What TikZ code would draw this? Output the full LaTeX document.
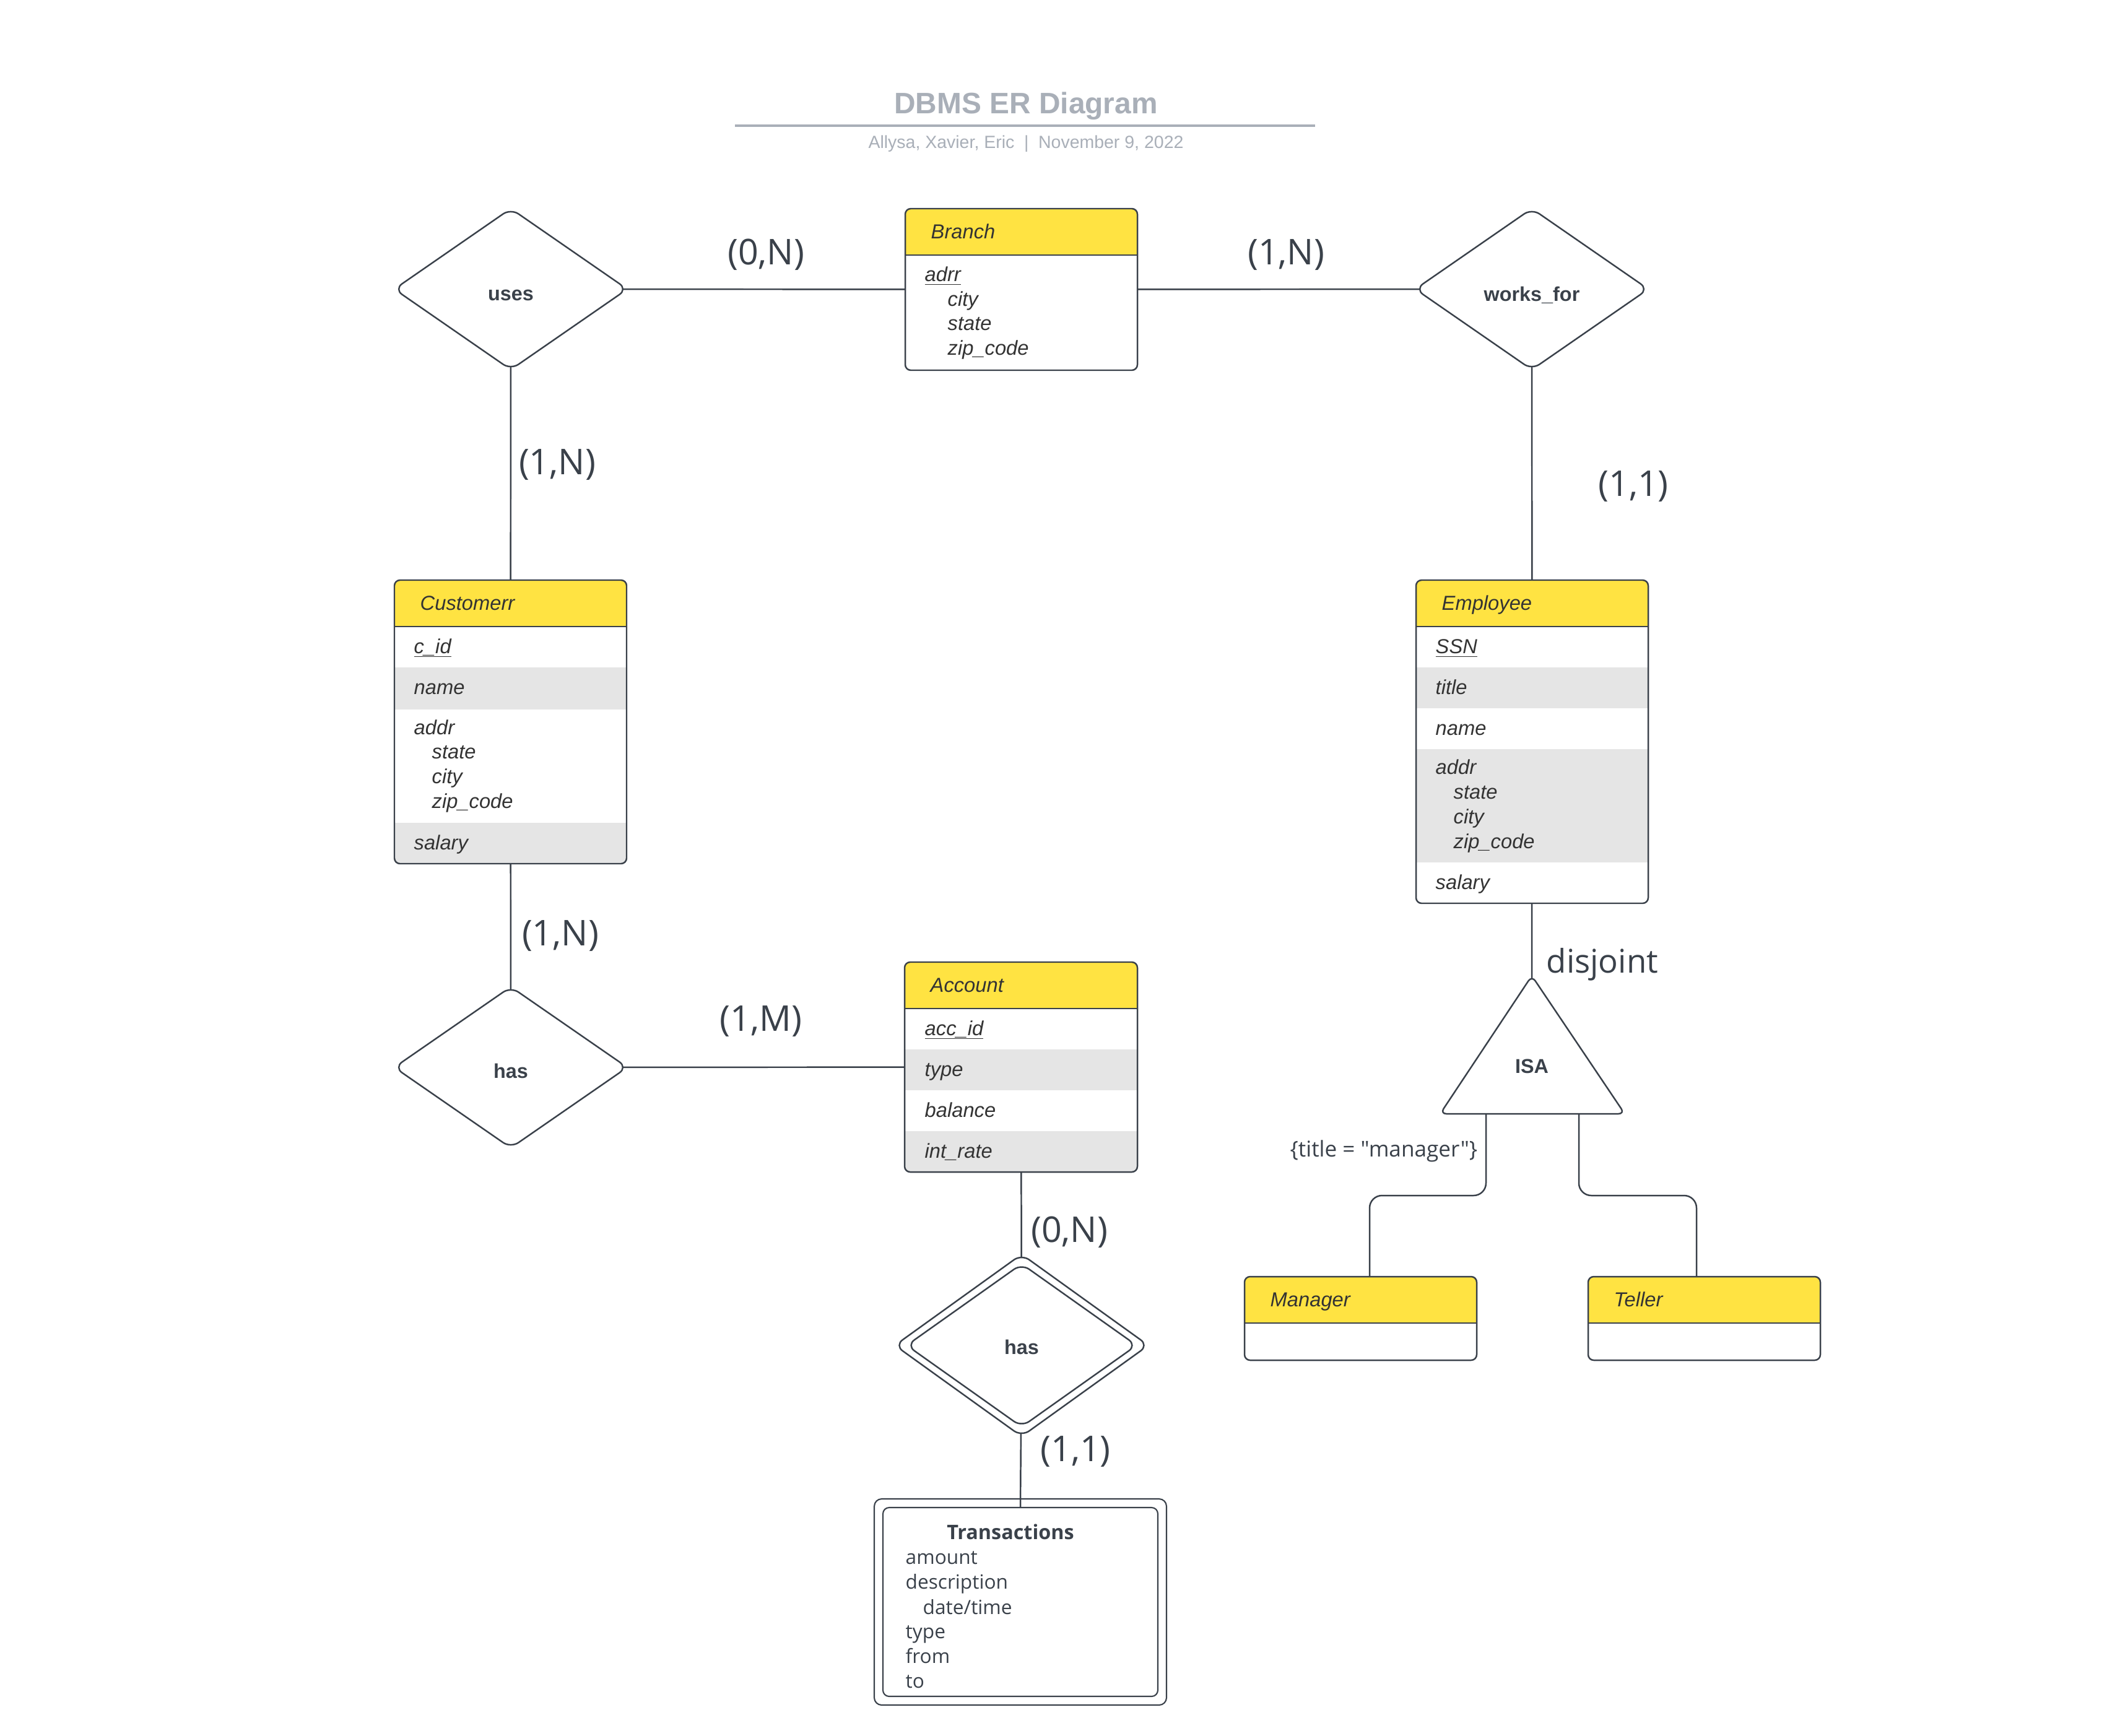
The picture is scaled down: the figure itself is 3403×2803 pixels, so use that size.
\documentclass[tikz,border=0pt]{standalone}
\usepackage{fontspec}
\setmainfont{Liberation Sans}
\newfontfamily\osans{Open Sans}
\usetikzlibrary{shapes.geometric,fit,backgrounds}

\definecolor{ln}{HTML}{3A414A}
\definecolor{hdr}{HTML}{FFE342}
\definecolor{rowg}{HTML}{E5E5E5}
\definecolor{txt}{HTML}{333333}
\definecolor{ttl}{HTML}{A9AFB8}

\newcommand\myrc{0.09cm}
% #1 name, #2 L, #3 T, #4 R, #5 B, #6 header bottom, #7 gray rows
\newcommand\ent[7]{%
  \fill[white, rounded corners=\myrc] (#2,#3) rectangle (#4,#5);
  \begin{scope}
    \clip[rounded corners=\myrc] (#2,#3) rectangle (#4,#5);
    #7
    \fill[hdr] (#2,#3) rectangle (#4,#6);
  \end{scope}
  \draw[ln, line width=0.35pt] (#2,#6) -- (#4,#6);
  \node[fit={(#2,#3) (#4,#5)}, inner sep=0pt, outer sep=0pt, draw=ln, line width=0.7pt, rounded corners=\myrc] (#1) {};
}

\tikzset{
  conn/.style={draw=ln, line width=0.7pt},
  attr/.style={anchor=base west, inner sep=0pt, text=txt, font=\fontsize{9.3}{11}\selectfont\itshape},
  rel/.style={diamond, draw=ln, line width=0.7pt, fill=white, rounded corners=0.15cm,
    minimum width=3.77cm, minimum height=2.61cm, inner sep=0pt},
  reltext/.style={inner sep=0pt, text=ln, font=\fontsize{9.2}{11}\selectfont\bfseries},
  card/.style={anchor=base, inner sep=0pt, text=ln, font=\osans\fontsize{16.3}{19}\selectfont},
  trtext/.style={anchor=base west, inner sep=0pt, text=ln, font=\osans\fontsize{9}{11}\selectfont},
}

\begin{document}
\begin{tikzpicture}[x=0.01cm,y=-0.01cm]
\useasboundingbox (0,0) rectangle (3403,2803);

% ---------- title ----------
\node[anchor=base, inner sep=0pt, text=ttl, font=\fontsize{13.6}{16}\selectfont\bfseries] (title) at (1657,183) {DBMS ER Diagram};
\draw[ttl, line width=0.9pt] (1187,203) -- (2124,203);
\node[anchor=base, inner sep=0pt, text=ttl, font=\fontsize{8.1}{10}\selectfont] (subtitle) at (1657,240)
  {Allysa, Xavier, Eric\hspace{0.55em}|\hspace{0.55em}November 9, 2022};

% ---------- Branch ----------
\ent{branch}{1462}{337}{1837}{598}{412}{}
\node[attr] (branchT) at (1503,385) {Branch};
\node[attr] (branchA1) at (1493,454) {\underline{adrr}};
\node[attr] (branchA2) at (1530,494) {city};
\node[attr] (branchA3) at (1530,533) {state};
\node[attr] (branchA4) at (1530,573) {zip\_code};

% ---------- Customer ----------
\ent{cust}{637}{937}{1012}{1395}{1012}{%
  \fill[rowg] (637,1078) rectangle (1012,1146);
  \fill[rowg] (637,1329) rectangle (1012,1395);}
\node[attr] (custT) at (678,985) {Customerr};
\node[attr] (custA1) at (668,1055) {\underline{c\smash{\_}id}};
\node[attr] (custA2) at (668,1121) {name};
\node[attr] (custA3) at (668,1186) {addr};
\node[attr] (custA4) at (697,1225) {state};
\node[attr] (custA5) at (697,1265) {city};
\node[attr] (custA6) at (697,1305) {zip\_code};
\node[attr] (custA7) at (668,1372) {salary};

% ---------- Employee ----------
\ent{emp}{2287}{937}{2662}{1459}{1012}{%
  \fill[rowg] (2287,1078) rectangle (2662,1144);
  \fill[rowg] (2287,1210) rectangle (2662,1393);}
\node[attr] (empT) at (2328,985) {Employee};
\node[attr] (empA1) at (2318,1055) {\underline{SSN}};
\node[attr] (empA2) at (2318,1121) {title};
\node[attr] (empA3) at (2318,1187) {name};
\node[attr] (empA4) at (2318,1250) {addr};
\node[attr] (empA5) at (2347,1290) {state};
\node[attr] (empA6) at (2347,1330) {city};
\node[attr] (empA7) at (2347,1370) {zip\_code};
\node[attr] (empA8) at (2318,1436) {salary};

% ---------- Account ----------
\ent{acct}{1461}{1554}{1837}{1893}{1629}{%
  \fill[rowg] (1461,1695) rectangle (1837,1761);
  \fill[rowg] (1461,1827) rectangle (1837,1893);}
\node[attr] (acctT) at (1502,1602) {Account};
\node[attr] (acctA1) at (1493,1672) {\underline{acc\smash{\_}id}};
\node[attr] (acctA2) at (1493,1738) {type};
\node[attr] (acctA3) at (1493,1804) {balance};
\node[attr] (acctA4) at (1493,1870) {int\_rate};

% ---------- Manager / Teller ----------
\ent{mgr}{2010}{2062}{2385}{2197}{2137}{}
\node[attr] (mgrT) at (2051,2110) {Manager};
\ent{tel}{2565}{2062}{2940}{2197}{2137}{}
\node[attr] (telT) at (2606,2110) {Teller};

% ---------- Relationships ----------
\node[rel] (uses) at (825,467) {};
\node[reltext] (usesT) at (825,477) {uses};
\node[rel] (worksfor) at (2474,467) {};
\node[reltext] (worksforT) at (2474,477) {works\_for};
\node[rel] (has1) at (825,1724) {};
\node[reltext] (has1T) at (825,1730) {has};
\node[rel, minimum width=4.1cm, minimum height=2.95cm] (has2o) at (1650,2173) {};
\node[rel, minimum width=3.72cm, minimum height=2.64cm] (has2) at (1650,2173) {};
\node[reltext] (has2T) at (1650,2176) {has};

% ---------- ISA ----------
\draw[conn, fill=white, rounded corners=0.1cm] (2474,1799) -- (2624,1799) -- (2474,1576) -- (2326,1799) -- cycle;
\node[anchor=base, inner sep=0pt, text=ln, font=\fontsize{9.2}{11}\selectfont\bfseries] (isa) at (2474,1733) {ISA};
\coordinate (isaTop) at (2474,1600);
\coordinate (isaBL) at (2400,1790);
\coordinate (isaBR) at (2550,1790);
\coordinate (mgrIn) at ([xshift=0.145cm]mgr.north);
\coordinate (telIn) at ([xshift=-0.125cm]tel.north);

% ---------- Transactions (weak entity) ----------
\node[fit={(1412,2421) (1884,2754)}, inner sep=0pt, draw=ln, line width=0.6pt, rounded corners=0.12cm] (trans) {};
\node[fit={(1426,2435) (1870,2740)}, inner sep=0pt, draw=ln, line width=0.6pt, rounded corners=0.1cm] (transin) {};
\node[anchor=base, inner sep=0pt, text=ln, font=\osans\fontsize{9.2}{11}\selectfont\bfseries] (transT) at (1632,2486) {Transactions};
\node[trtext] (tr1) at (1462,2526) {amount};
\node[trtext] (tr2) at (1462,2566) {description};
\node[trtext] (tr3) at (1490,2607) {date/time};
\node[trtext] (tr4) at (1462,2646) {type};
\node[trtext] (tr5) at (1462,2686) {from};
\node[trtext] (tr6) at (1462,2726) {to};

% ---------- cardinality labels ----------
\node[card] (c1) at (1237,427) {(0,N)};
\node[card] (c2) at (2077,427) {(1,N)};
\node[card] (c3) at (900,766) {(1,N)};
\node[card] (c4) at (2638,801) {(1,1)};
\node[card] (c5) at (905,1527) {(1,N)};
\node[card] (c6) at (1229,1665) {(1,M)};
\node[card] (c7) at (1727,2006) {(0,N)};
\node[card] (c8) at (1737,2360) {(1,1)};
\node[anchor=base west, inner sep=0pt, text=ln, font=\osans\fontsize{15}{18}\selectfont] (disj) at (2497,1571) {disjoint};
\node[anchor=base east, inner sep=0pt, text=ln, font=\osans\fontsize{10}{12}\selectfont] (cond) at (2387,1868) {\{title = "manager"\}};

% ---------- connectors (behind shapes) ----------
\begin{scope}[on background layer]
  \fill[white] (0,0) rectangle (3403,2803);
  \draw[conn] (uses.center) -- (branch.center);
  \draw[conn] (branch.center) -- (worksfor.center);
  \draw[conn] (uses.center) -- (cust.center);
  \draw[conn] (worksfor.center) -- (emp.center);
  \draw[conn] (cust.center) -- (has1.center);
  \draw[conn] (has1.center) -- (acct.center);
  \draw[conn] (acct.center) -- (has2o.center);
  \draw[conn] (has2o.center) -- (transin.north);
  \draw[conn] (emp.center) -- (isaTop);
  \draw[conn, rounded corners=0.2cm] (isaBL) -- (2400,1931) -| (mgrIn);
  \draw[conn, rounded corners=0.2cm] (isaBR) -- (2550,1931) -| (telIn);
\end{scope}
\end{tikzpicture}
\end{document}
